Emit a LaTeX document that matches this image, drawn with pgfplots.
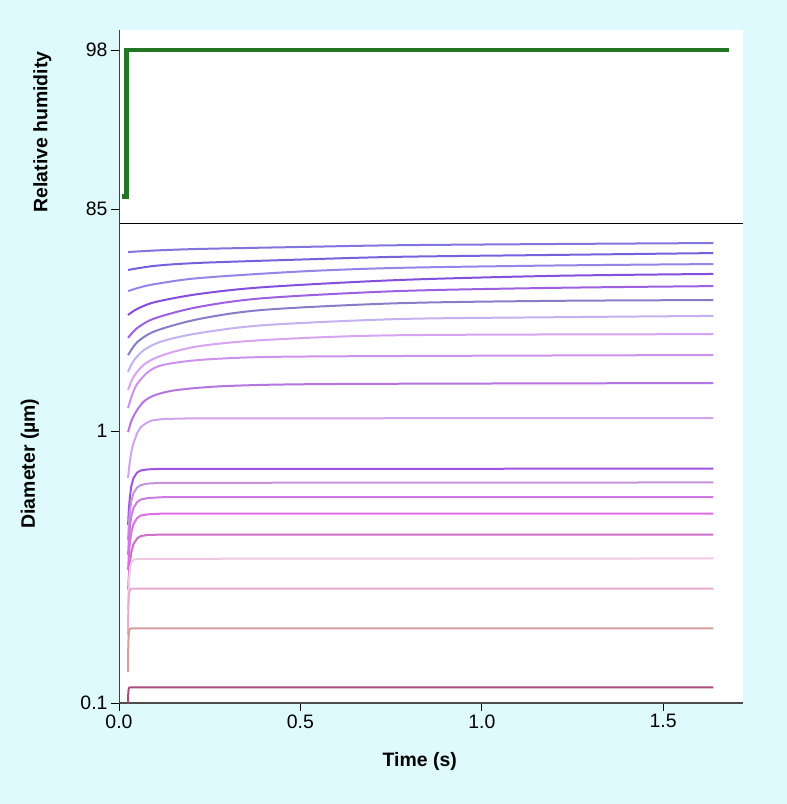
\documentclass[border=0pt]{standalone}
\usepackage{fontspec}
\setmainfont{Liberation Sans}
\usepackage{pgfplots}
\pgfplotsset{compat=1.18}

\definecolor{bgc}{RGB}{223,250,252}
\definecolor{rhgreen}{RGB}{35,118,35}
\definecolor{c1}{RGB}{128,116,222}
\definecolor{c2}{RGB}{114,98,222}
\definecolor{c3}{RGB}{150,132,232}
\definecolor{c4}{RGB}{132,78,222}
\definecolor{c5}{RGB}{158,96,226}
\definecolor{c6}{RGB}{134,126,200}
\definecolor{c7}{RGB}{196,178,240}
\definecolor{c8}{RGB}{214,164,240}
\definecolor{c9}{RGB}{206,146,238}
\definecolor{c10}{RGB}{180,116,226}
\definecolor{c11}{RGB}{210,164,238}
\definecolor{c12}{RGB}{160,84,230}
\definecolor{c13}{RGB}{196,148,218}
\definecolor{c14}{RGB}{204,122,226}
\definecolor{c15}{RGB}{222,110,230}
\definecolor{c16}{RGB}{206,112,200}
\definecolor{c17}{RGB}{240,200,226}
\definecolor{c18}{RGB}{232,172,206}
\definecolor{c19}{RGB}{214,158,156}
\definecolor{c20}{RGB}{170,76,124}

\pgfplotsset{
  panel/.style={
    scale only axis,
    width=624bp,
    xmin=0, xmax=1.72,
    axis lines=left,
    axis line style={-},
    axis background/.style={fill=white},
    tick align=outside,
    major tick length=8bp,
    tick style={black, line width=0.8bp},
    y axis line style={black!75, line width=1bp},
    tick label style={font=\fontsize{19.5}{20}\selectfont},
    label style={font=\bfseries\fontsize{19.5}{20}\selectfont},
    /pgf/number format/assume math mode=true,
  },
  dcurve/.style={line width=2bp, smooth, tension=0.5, no markers},
  fcurve/.style={line width=2bp, line join=round, no markers},
}

\begin{document}
\begin{tikzpicture}[x=1bp,y=1bp]
\fill[bgc] (0,0) rectangle (787,804);
\useasboundingbox (0,0) rectangle (787,804);

% relative humidity step
\begin{axis}[panel,
  at={(119bp,580bp)}, anchor=south west,
  height=194bp,
  ymin=83.77, ymax=99.64,
  ytick={85,98}, yticklabels={85,98},
  xtick={0.5,1,1.5}, minor xtick={0.25,0.75,1.25}, xticklabels={},
  xtick style={/pgfplots/major tick length=4bp, /pgfplots/minor tick length=3bp},
  x axis line style={black, line width=1.6bp},
  ylabel={Relative humidity},
  ylabel style={at={(axis description cs:-0.123,0.474)}, anchor=center},
]
\addplot[rhgreen, line width=4.5bp, no markers] coordinates {
  (0.007,86.0) (0.021,86.0) (0.021,98.0) (1.68,98.0)
};
\end{axis}

% particle diameter growth
\begin{axis}[panel,
  at={(119bp,101bp)}, anchor=south west,
  height=479bp,
  ymode=log, ymin=0.1, ymax=5.77,
  ytick={0.1,1}, yticklabels={0.1,1}, yminorticks=false,
  xtick={0,0.5,1,1.5}, xticklabels={0.0,0.5,1.0,1.5},
  x axis line style={black!70, line width=2.5bp},
  xlabel={Time (s)},
  xlabel style={at={(axis description cs:0.482,-0.123)}, anchor=center},
  ylabel={Diameter (µm)},
  ylabel style={at={(axis description cs:-0.143,0.5)}, anchor=center},
]
% large particles: slow growth
\addplot[dcurve, c1] coordinates {(0.025,4.55) (0.1,4.61) (0.22,4.67) (0.5,4.75) (0.77,4.82) (1.2,4.87) (1.638,4.91)};
\addplot[dcurve, c2] coordinates {(0.025,3.91) (0.1,4.05) (0.22,4.15) (0.5,4.27) (0.77,4.37) (1.2,4.44) (1.638,4.51)};
\addplot[dcurve, c3] coordinates {(0.025,3.27) (0.06,3.38) (0.1,3.47) (0.22,3.65) (0.5,3.86) (0.77,3.98) (1.2,4.06) (1.638,4.11)};
\addplot[dcurve, c4] coordinates {(0.025,2.67) (0.05,2.81) (0.1,2.98) (0.22,3.19) (0.4,3.38) (0.77,3.59) (1.2,3.72) (1.638,3.78)};
\addplot[dcurve, c5] coordinates {(0.025,2.20) (0.05,2.39) (0.1,2.60) (0.22,2.86) (0.4,3.08) (0.77,3.27) (1.2,3.36) (1.638,3.41)};
\addplot[dcurve, c6] coordinates {(0.025,1.90) (0.05,2.12) (0.1,2.33) (0.22,2.58) (0.4,2.79) (0.77,2.95) (1.2,3.01) (1.638,3.03)};
\addplot[dcurve, c7] coordinates {(0.025,1.65) (0.04,1.81) (0.07,1.99) (0.12,2.14) (0.22,2.29) (0.4,2.45) (0.77,2.58) (1.2,2.62) (1.638,2.65)};
\addplot[dcurve, c8] coordinates {(0.025,1.415) (0.04,1.58) (0.07,1.76) (0.12,1.90) (0.22,2.05) (0.4,2.16) (0.77,2.25) (1.638,2.27)};
\addplot[dcurve, c9] coordinates {(0.025,1.215) (0.035,1.345) (0.05,1.489) (0.08,1.648) (0.12,1.748) (0.22,1.824) (0.4,1.871) (0.77,1.887) (1.638,1.903)};
\addplot[dcurve, c10] coordinates {(0.025,0.991) (0.035,1.097) (0.05,1.195) (0.07,1.289) (0.1,1.356) (0.16,1.415) (0.3,1.464) (0.6,1.489) (1.638,1.501)};
% small particles: fast growth
\addplot[fcurve, c11] coordinates {(0.025,0.672) (0.028,0.737) (0.032,0.809) (0.036,0.866) (0.04,0.903) (0.05,0.983) (0.06,1.034) (0.075,1.070) (0.09,1.093) (0.12,1.107) (0.2,1.113) (1.638,1.116)};
\addplot[fcurve, c12] coordinates {(0.025,0.451) (0.027,0.512) (0.03,0.572) (0.034,0.628) (0.04,0.672) (0.05,0.704) (0.06,0.716) (0.08,0.723) (0.12,0.726) (1.638,0.727)};
\addplot[fcurve, c13] coordinates {(0.025,0.397) (0.027,0.451) (0.03,0.504) (0.034,0.553) (0.04,0.592) (0.05,0.620) (0.06,0.633) (0.08,0.641) (0.12,0.645) (1.638,0.647)};
\addplot[fcurve, c14] coordinates {(0.025,0.350) (0.027,0.397) (0.03,0.444) (0.034,0.487) (0.04,0.521) (0.05,0.548) (0.06,0.560) (0.08,0.567) (0.12,0.571) (1.638,0.572)};
\addplot[fcurve, c15] coordinates {(0.025,0.308) (0.027,0.347) (0.03,0.388) (0.034,0.425) (0.04,0.455) (0.05,0.479) (0.06,0.489) (0.08,0.494) (0.12,0.497) (1.638,0.497)};
\addplot[fcurve, c16] coordinates {(0.025,0.260) (0.027,0.293) (0.03,0.327) (0.034,0.359) (0.04,0.384) (0.05,0.403) (0.06,0.411) (0.08,0.415) (0.12,0.416) (1.638,0.416)};
\addplot[fcurve, c17] coordinates {(0.025,0.220) (0.026,0.250) (0.028,0.288) (0.031,0.316) (0.035,0.330) (0.042,0.337) (0.06,0.339) (1.638,0.340)};
\addplot[fcurve, c18] coordinates {(0.025,0.178) (0.0255,0.211) (0.0265,0.239) (0.028,0.254) (0.031,0.2615) (0.036,0.2635) (1.638,0.2636)};
\addplot[fcurve, c19] coordinates {(0.025,0.130) (0.0255,0.160) (0.0265,0.177) (0.028,0.1845) (0.031,0.1875) (0.035,0.1882) (1.638,0.1882)};
\addplot[fcurve, c20] coordinates {(0.025,0.100) (0.0255,0.108) (0.0265,0.1125) (0.028,0.1138) (0.031,0.1142) (1.638,0.1142)};
\end{axis}
\end{tikzpicture}
\end{document}
